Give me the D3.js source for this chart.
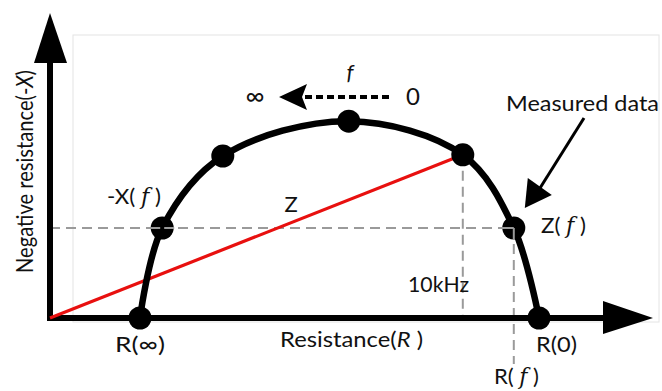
<!DOCTYPE html>
<html>
<head>
<meta charset="utf-8">
<script src="https://cdn.jsdelivr.net/npm/d3@7/dist/d3.min.js"></script>
<style>
  html, body { margin: 0; padding: 0; background: #fff; }
  svg { display: block; }
  text { font-family: Lato, "Open Sans", sans-serif; fill: #111; }
</style>
</head>
<body>
<svg id="chart" width="662" height="391"></svg>
<script>
// Impedance locus (Cole plot): resistance R against negative reactance -X
const pointLabels = ["R(∞)", "-X(f)", "", "", "", "Z(f)", "R(0)"];
const resistance  = [1.50, 1.87, 2.88, 4.98, 6.88, 7.73, 8.15];
const negReactance = [0.00, 1.50, 2.70, 3.28, 2.72, 1.50, 0.00];

const measured = resistance.map((r, i) => ({ r, x: negReactance[i], label: pointLabels[i] }));
const zIndex = 4;      // point joined to the origin by |Z| (10 kHz)
const fIndex = 5;      // point Z(f) projected onto both axes

const W = 662, H = 391;
const svg = d3.select("#chart");
svg.append("rect").attr("width", W).attr("height", H).attr("fill", "#fff");

const x = d3.scaleLinear().domain([0, 10]).range([50, 650]);
const y = d3.scaleLinear().domain([0, 5]).range([318, 18]);

// faint plot frame
svg.append("rect")
  .attr("x", 73).attr("y", 35).attr("width", 586).attr("height", 287)
  .attr("fill", "none").attr("stroke", "#e4e4e4").attr("stroke-width", 1);

const ox = x(0), oy = y(0);

// dashed guide lines
const guide = svg.append("g")
  .attr("stroke", "#9a9a9a").attr("stroke-width", 2)
  .attr("stroke-dasharray", "10,6").attr("fill", "none");
const pf = measured[fIndex], pz = measured[zIndex];
guide.append("line")
  .attr("x1", ox).attr("y1", y(pf.x)).attr("x2", x(pf.r)).attr("y2", y(pf.x));
guide.append("line")
  .attr("x1", x(pf.r)).attr("y1", y(pf.x)).attr("x2", x(pf.r)).attr("y2", 364);
guide.append("line")
  .attr("x1", x(pz.r)).attr("y1", y(pz.x)).attr("x2", x(pz.r)).attr("y2", oy);

// axes with arrowheads
const axes = svg.append("g");
axes.append("line").attr("x1", 47).attr("y1", oy).attr("x2", 606).attr("y2", oy)
  .attr("stroke", "#000").attr("stroke-width", 6);
axes.append("line").attr("x1", ox).attr("y1", oy + 3).attr("x2", ox).attr("y2", 60)
  .attr("stroke", "#000").attr("stroke-width", 6);
axes.append("path").attr("d", `M603,${oy - 17}L653,${oy}L603,${oy + 16}Z`).attr("fill", "#000");
axes.append("path").attr("d", `M${ox - 16},63L${ox},13L${ox + 17},63Z`).attr("fill", "#000");

// |Z| vector
svg.append("line")
  .attr("x1", ox).attr("y1", oy).attr("x2", x(pz.r)).attr("y2", y(pz.x))
  .attr("stroke", "#e8100f").attr("stroke-width", 3.2);

// locus through the measured points
const line = d3.line().x(d => x(d.r)).y(d => y(d.x)).curve(d3.curveCatmullRom.alpha(0.5));
svg.append("path").datum(measured)
  .attr("d", line).attr("fill", "none").attr("stroke", "#000").attr("stroke-width", 6.5);

svg.append("g").selectAll("circle").data(measured).join("circle")
  .attr("cx", d => x(d.r)).attr("cy", d => y(d.x)).attr("r", 11.5).attr("fill", "#000");

// guide corners drawn over the dots
svg.append("line")
  .attr("x1", x(pf.r) - 12).attr("y1", y(pf.x)).attr("x2", x(pf.r)).attr("y2", y(pf.x))
  .attr("stroke", "#9a9a9a").attr("stroke-width", 2);
svg.append("line")
  .attr("x1", x(pf.r)).attr("y1", y(pf.x)).attr("x2", x(pf.r)).attr("y2", y(pf.x) + 12)
  .attr("stroke", "#9a9a9a").attr("stroke-width", 2);
const p2 = measured[1];
svg.append("line")
  .attr("x1", x(p2.r) - 12).attr("y1", y(p2.x)).attr("x2", x(p2.r) + 12).attr("y2", y(p2.x))
  .attr("stroke", "#9a9a9a").attr("stroke-width", 2).attr("stroke-dasharray", "10,4");

// text labels
const fs = 22;
function label(t, tx, ty, anchor, len) {
  const el = svg.append("text").attr("x", tx).attr("y", ty)
    .attr("font-size", fs).attr("text-anchor", anchor || "start").text(t);
  if (len) el.attr("textLength", len).attr("lengthAdjust", "spacingAndGlyphs");
  return el;
}
function fLabel(prefix, tx, ty, len) {
  const t = svg.append("text").attr("x", tx).attr("y", ty).attr("font-size", fs)
    .attr("textLength", len).attr("lengthAdjust", "spacingAndGlyphs");
  t.append("tspan").text(prefix + "( ");
  t.append("tspan").attr("font-style", "italic").attr("font-family", "'DejaVu Serif', serif").text("f");
  t.append("tspan").text(" )");
  return t;
}

label("R(∞)", 115, 352, "start", 50);
label("R(0)", 536, 352, "start", 41);
fLabel("-X", 107, 204, 54);
fLabel("Z", 541, 233, 45);
fLabel("R", 494, 384, 45);
label("Z", 291, 212, "middle");
label("10kHz", 408, 292, "start", 61);

const rl = svg.append("text").attr("x", 280).attr("y", 347).attr("font-size", fs)
  .attr("textLength", 143).attr("lengthAdjust", "spacingAndGlyphs");
rl.append("tspan").text("Resistance(");
rl.append("tspan").attr("font-style", "italic").text("R");
rl.append("tspan").text(" )");

const yl = svg.append("text")
  .attr("transform", "translate(33,171.5) rotate(-90)")
  .attr("text-anchor", "middle").attr("font-size", 24)
  .attr("textLength", 203).attr("lengthAdjust", "spacingAndGlyphs");
yl.append("tspan").text("Negative resistance(-");
yl.append("tspan").attr("font-style", "italic").text("X");
yl.append("tspan").text(")");

label("Measured data", 506, 111, "start", 153);

// pointer from the caption to Z(f)
const tipX = x(pf.r) + 11, tipY = y(pf.x) - 20;
svg.append("line")
  .attr("x1", 584).attr("y1", 118).attr("x2", tipX + 14).attr("y2", tipY - 18)
  .attr("stroke", "#000").attr("stroke-width", 3);
svg.append("path")
  .attr("d", `M${tipX},${tipY}L${tipX + 3},${tipY - 30}L${tipX + 27},${tipY - 13}Z`)
  .attr("fill", "#000");

// frequency direction: 0 → ∞
const fy = 97;
svg.append("line").attr("x1", 305).attr("y1", fy).attr("x2", 393).attr("y2", fy)
  .attr("stroke", "#000").attr("stroke-width", 4).attr("stroke-dasharray", "7,4");
svg.append("path").attr("d", `M279,${fy}L307,${fy - 13}L302,${fy}L307,${fy + 13}Z`).attr("fill", "#000");
label("∞", 255, fy + 8, "middle").attr("font-size", 26);
label("0", 413, fy + 8, "middle").attr("font-size", 24);
svg.append("text").attr("x", 350).attr("y", 80).attr("text-anchor", "middle")
  .attr("font-size", fs).attr("font-style", "italic")
  .attr("font-family", "'DejaVu Serif', serif").text("f");
</script>
</body>
</html>
